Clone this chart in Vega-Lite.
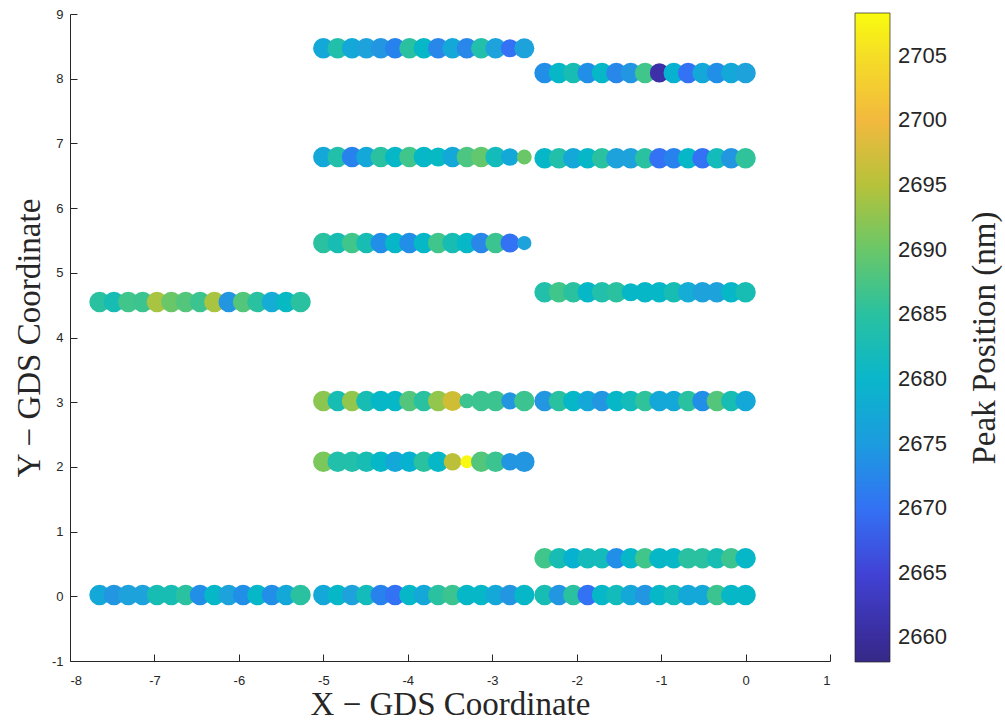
{
"$schema":"https://vega.github.io/schema/vega-lite/v6.json",
"width":760,"height":647,
"autosize":{"type":"none"},
"padding":{"left":70,"top":14,"right":175,"bottom":61},
"background":"white",
"config":{"view":{"stroke":null},
"axis":{"labelFont":"Liberation Sans","labelFontSize":13,"labelColor":"#262626","titleFont":"Liberation Serif","titleFontSize":33,"titleFontWeight":"normal","titleColor":"#262626","domainColor":"#262626","tickColor":"#262626","grid":false,"tickSize":-7}},
"data":{"values":[
{"x":-5.00,"y":8.47,"peak":2677,"amp":1},{"x":-4.83,"y":8.47,"peak":2684,"amp":1},{"x":-4.66,"y":8.47,"peak":2677,"amp":1},{"x":-4.49,"y":8.47,"peak":2676,"amp":1},{"x":-4.32,"y":8.47,"peak":2674,"amp":1},{"x":-4.15,"y":8.47,"peak":2671.5,"amp":1},{"x":-3.98,"y":8.47,"peak":2685,"amp":1},{"x":-3.81,"y":8.47,"peak":2680.5,"amp":1},{"x":-3.64,"y":8.47,"peak":2672,"amp":1},{"x":-3.47,"y":8.47,"peak":2677,"amp":1},{"x":-3.30,"y":8.47,"peak":2672,"amp":1},{"x":-3.13,"y":8.47,"peak":2684,"amp":1},{"x":-2.96,"y":8.47,"peak":2676,"amp":1},{"x":-2.79,"y":8.47,"peak":2670,"amp":0.75},{"x":-2.62,"y":8.47,"peak":2676,"amp":0.95},
{"x":-2.38,"y":8.09,"peak":2673,"amp":1},{"x":-2.21,"y":8.09,"peak":2680.5,"amp":1},{"x":-2.04,"y":8.09,"peak":2683,"amp":1},{"x":-1.87,"y":8.09,"peak":2673,"amp":1},{"x":-1.70,"y":8.09,"peak":2680.5,"amp":1},{"x":-1.53,"y":8.09,"peak":2672,"amp":1},{"x":-1.36,"y":8.09,"peak":2674,"amp":1},{"x":-1.19,"y":8.09,"peak":2687,"amp":1},{"x":-1.02,"y":8.09,"peak":2661,"amp":0.85},{"x":-0.85,"y":8.09,"peak":2679,"amp":1},{"x":-0.68,"y":8.09,"peak":2670,"amp":1},{"x":-0.51,"y":8.09,"peak":2677,"amp":1},{"x":-0.34,"y":8.09,"peak":2673,"amp":1},{"x":-0.17,"y":8.09,"peak":2677,"amp":1},{"x":0.00,"y":8.09,"peak":2676,"amp":1},
{"x":-5.00,"y":6.79,"peak":2677,"amp":1},{"x":-4.83,"y":6.79,"peak":2684,"amp":1},{"x":-4.66,"y":6.79,"peak":2671.5,"amp":1},{"x":-4.49,"y":6.79,"peak":2677,"amp":1},{"x":-4.32,"y":6.79,"peak":2685,"amp":1},{"x":-4.15,"y":6.79,"peak":2680.5,"amp":1},{"x":-3.98,"y":6.79,"peak":2687,"amp":1},{"x":-3.81,"y":6.79,"peak":2680.5,"amp":1},{"x":-3.64,"y":6.79,"peak":2681,"amp":0.85},{"x":-3.47,"y":6.79,"peak":2677,"amp":1},{"x":-3.30,"y":6.79,"peak":2688,"amp":1},{"x":-3.13,"y":6.79,"peak":2689.5,"amp":1},{"x":-2.96,"y":6.79,"peak":2682,"amp":1},{"x":-2.79,"y":6.79,"peak":2677,"amp":0.7},{"x":-2.62,"y":6.79,"peak":2690,"amp":0.45},
{"x":-2.38,"y":6.77,"peak":2680.5,"amp":1},{"x":-2.21,"y":6.77,"peak":2684,"amp":1},{"x":-2.04,"y":6.77,"peak":2677,"amp":1},{"x":-1.87,"y":6.77,"peak":2680.5,"amp":1},{"x":-1.70,"y":6.77,"peak":2685,"amp":1},{"x":-1.53,"y":6.77,"peak":2676,"amp":1},{"x":-1.36,"y":6.77,"peak":2676,"amp":1},{"x":-1.19,"y":6.77,"peak":2685,"amp":1},{"x":-1.02,"y":6.77,"peak":2670,"amp":1},{"x":-0.85,"y":6.77,"peak":2671.5,"amp":1},{"x":-0.68,"y":6.77,"peak":2680.5,"amp":1},{"x":-0.51,"y":6.77,"peak":2670,"amp":1},{"x":-0.34,"y":6.77,"peak":2682,"amp":1},{"x":-0.17,"y":6.77,"peak":2674,"amp":1},{"x":0.00,"y":6.77,"peak":2685.5,"amp":1},
{"x":-5.00,"y":5.46,"peak":2685,"amp":1},{"x":-4.83,"y":5.46,"peak":2683,"amp":1},{"x":-4.66,"y":5.46,"peak":2687,"amp":1},{"x":-4.49,"y":5.46,"peak":2683,"amp":1},{"x":-4.32,"y":5.46,"peak":2673,"amp":1},{"x":-4.15,"y":5.46,"peak":2680.5,"amp":1},{"x":-3.98,"y":5.46,"peak":2673,"amp":1},{"x":-3.81,"y":5.46,"peak":2680.5,"amp":1},{"x":-3.64,"y":5.46,"peak":2687,"amp":1},{"x":-3.47,"y":5.46,"peak":2683,"amp":1},{"x":-3.30,"y":5.46,"peak":2680.5,"amp":1},{"x":-3.13,"y":5.46,"peak":2672,"amp":1},{"x":-2.96,"y":5.46,"peak":2686.5,"amp":1},{"x":-2.79,"y":5.46,"peak":2670,"amp":0.85},{"x":-2.62,"y":5.46,"peak":2676,"amp":0.4},
{"x":-7.65,"y":4.55,"peak":2685,"amp":1},{"x":-7.48,"y":4.55,"peak":2683,"amp":1},{"x":-7.31,"y":4.55,"peak":2687,"amp":1},{"x":-7.14,"y":4.55,"peak":2686.5,"amp":1},{"x":-6.97,"y":4.55,"peak":2694,"amp":1},{"x":-6.80,"y":4.55,"peak":2690,"amp":1},{"x":-6.63,"y":4.55,"peak":2688.5,"amp":1},{"x":-6.46,"y":4.55,"peak":2686.5,"amp":1},{"x":-6.29,"y":4.55,"peak":2694,"amp":1},{"x":-6.12,"y":4.55,"peak":2674,"amp":1},{"x":-5.95,"y":4.55,"peak":2688.5,"amp":1},{"x":-5.78,"y":4.55,"peak":2685,"amp":1},{"x":-5.61,"y":4.55,"peak":2678,"amp":1},{"x":-5.44,"y":4.55,"peak":2681,"amp":1},{"x":-5.27,"y":4.55,"peak":2685,"amp":1},
{"x":-2.38,"y":4.70,"peak":2684,"amp":1},{"x":-2.21,"y":4.70,"peak":2687,"amp":1},{"x":-2.04,"y":4.70,"peak":2685,"amp":1},{"x":-1.87,"y":4.70,"peak":2680.5,"amp":1},{"x":-1.70,"y":4.70,"peak":2684,"amp":1},{"x":-1.53,"y":4.70,"peak":2685,"amp":1},{"x":-1.36,"y":4.70,"peak":2680.5,"amp":0.75},{"x":-1.19,"y":4.70,"peak":2680.5,"amp":1},{"x":-1.02,"y":4.70,"peak":2680.5,"amp":1},{"x":-0.85,"y":4.70,"peak":2683,"amp":1},{"x":-0.68,"y":4.70,"peak":2678,"amp":1},{"x":-0.51,"y":4.70,"peak":2676,"amp":1},{"x":-0.34,"y":4.70,"peak":2676,"amp":1},{"x":-0.17,"y":4.70,"peak":2680.5,"amp":1},{"x":0.00,"y":4.70,"peak":2683,"amp":1},
{"x":-5.00,"y":3.02,"peak":2692,"amp":1},{"x":-4.83,"y":3.02,"peak":2683,"amp":1},{"x":-4.66,"y":3.02,"peak":2692.5,"amp":1},{"x":-4.49,"y":3.02,"peak":2683,"amp":1},{"x":-4.32,"y":3.02,"peak":2680.5,"amp":1},{"x":-4.15,"y":3.02,"peak":2680.5,"amp":1},{"x":-3.98,"y":3.02,"peak":2688.5,"amp":1},{"x":-3.81,"y":3.02,"peak":2685,"amp":1},{"x":-3.64,"y":3.02,"peak":2692.5,"amp":1},{"x":-3.47,"y":3.02,"peak":2697,"amp":0.95},{"x":-3.30,"y":3.02,"peak":2686.5,"amp":0.45},{"x":-3.13,"y":3.02,"peak":2686.5,"amp":1},{"x":-2.96,"y":3.02,"peak":2686.5,"amp":1},{"x":-2.79,"y":3.02,"peak":2674,"amp":0.65},{"x":-2.62,"y":3.02,"peak":2686.5,"amp":1},
{"x":-2.38,"y":3.02,"peak":2674,"amp":1},{"x":-2.21,"y":3.02,"peak":2685,"amp":1},{"x":-2.04,"y":3.02,"peak":2680.5,"amp":1},{"x":-1.87,"y":3.02,"peak":2677,"amp":1},{"x":-1.70,"y":3.02,"peak":2674,"amp":1},{"x":-1.53,"y":3.02,"peak":2680.5,"amp":1},{"x":-1.36,"y":3.02,"peak":2682,"amp":1},{"x":-1.19,"y":3.02,"peak":2685.5,"amp":1},{"x":-1.02,"y":3.02,"peak":2677,"amp":1},{"x":-0.85,"y":3.02,"peak":2677,"amp":1},{"x":-0.68,"y":3.02,"peak":2685,"amp":1},{"x":-0.51,"y":3.02,"peak":2673,"amp":1},{"x":-0.34,"y":3.02,"peak":2688.5,"amp":1},{"x":-0.17,"y":3.02,"peak":2683,"amp":1},{"x":0.00,"y":3.02,"peak":2677,"amp":1},
{"x":-5.00,"y":2.08,"peak":2691,"amp":1},{"x":-4.83,"y":2.08,"peak":2684,"amp":1},{"x":-4.66,"y":2.08,"peak":2684,"amp":1},{"x":-4.49,"y":2.08,"peak":2683,"amp":1},{"x":-4.32,"y":2.08,"peak":2680.5,"amp":1},{"x":-4.15,"y":2.08,"peak":2677,"amp":1},{"x":-3.98,"y":2.08,"peak":2679,"amp":1},{"x":-3.81,"y":2.08,"peak":2685,"amp":1},{"x":-3.64,"y":2.08,"peak":2680.5,"amp":1},{"x":-3.47,"y":2.08,"peak":2695.5,"amp":0.7},{"x":-3.30,"y":2.08,"peak":2708,"amp":0.3},{"x":-3.13,"y":2.08,"peak":2688.5,"amp":1},{"x":-2.96,"y":2.08,"peak":2686.5,"amp":1},{"x":-2.79,"y":2.08,"peak":2674,"amp":0.7},{"x":-2.62,"y":2.08,"peak":2674,"amp":1},
{"x":-2.38,"y":0.59,"peak":2687,"amp":1},{"x":-2.21,"y":0.59,"peak":2683,"amp":1},{"x":-2.04,"y":0.59,"peak":2679,"amp":1},{"x":-1.87,"y":0.59,"peak":2682,"amp":1},{"x":-1.70,"y":0.59,"peak":2682,"amp":1},{"x":-1.53,"y":0.59,"peak":2673,"amp":1},{"x":-1.36,"y":0.59,"peak":2680.5,"amp":1},{"x":-1.19,"y":0.59,"peak":2687,"amp":1},{"x":-1.02,"y":0.59,"peak":2680.5,"amp":1},{"x":-0.85,"y":0.59,"peak":2680.5,"amp":1},{"x":-0.68,"y":0.59,"peak":2685,"amp":1},{"x":-0.51,"y":0.59,"peak":2685,"amp":1},{"x":-0.34,"y":0.59,"peak":2683,"amp":1},{"x":-0.17,"y":0.59,"peak":2686.5,"amp":1},{"x":0.00,"y":0.59,"peak":2680.5,"amp":1},
{"x":-7.65,"y":0.02,"peak":2677,"amp":1},{"x":-7.48,"y":0.02,"peak":2674,"amp":1},{"x":-7.31,"y":0.02,"peak":2676,"amp":1},{"x":-7.14,"y":0.02,"peak":2676,"amp":1},{"x":-6.97,"y":0.02,"peak":2683,"amp":1},{"x":-6.80,"y":0.02,"peak":2683,"amp":1},{"x":-6.63,"y":0.02,"peak":2685,"amp":1},{"x":-6.46,"y":0.02,"peak":2673,"amp":1},{"x":-6.29,"y":0.02,"peak":2680.5,"amp":1},{"x":-6.12,"y":0.02,"peak":2676,"amp":1},{"x":-5.95,"y":0.02,"peak":2673,"amp":1},{"x":-5.78,"y":0.02,"peak":2680.5,"amp":1},{"x":-5.61,"y":0.02,"peak":2673,"amp":1},{"x":-5.44,"y":0.02,"peak":2677,"amp":1},{"x":-5.27,"y":0.02,"peak":2685,"amp":1},
{"x":-5.00,"y":0.02,"peak":2677,"amp":1},{"x":-4.83,"y":0.02,"peak":2680.5,"amp":1},{"x":-4.66,"y":0.02,"peak":2676,"amp":1},{"x":-4.49,"y":0.02,"peak":2682,"amp":1},{"x":-4.32,"y":0.02,"peak":2671.5,"amp":1},{"x":-4.15,"y":0.02,"peak":2670,"amp":1},{"x":-3.98,"y":0.02,"peak":2680.5,"amp":1},{"x":-3.81,"y":0.02,"peak":2677,"amp":1},{"x":-3.64,"y":0.02,"peak":2685,"amp":1},{"x":-3.47,"y":0.02,"peak":2686.5,"amp":1},{"x":-3.30,"y":0.02,"peak":2680.5,"amp":1},{"x":-3.13,"y":0.02,"peak":2680.5,"amp":1},{"x":-2.96,"y":0.02,"peak":2677,"amp":1},{"x":-2.79,"y":0.02,"peak":2674,"amp":1},{"x":-2.62,"y":0.02,"peak":2680.5,"amp":1},
{"x":-2.38,"y":0.02,"peak":2683,"amp":1},{"x":-2.21,"y":0.02,"peak":2674,"amp":1},{"x":-2.04,"y":0.02,"peak":2685,"amp":1},{"x":-1.87,"y":0.02,"peak":2670,"amp":1},{"x":-1.70,"y":0.02,"peak":2680.5,"amp":1},{"x":-1.53,"y":0.02,"peak":2682,"amp":1},{"x":-1.36,"y":0.02,"peak":2677,"amp":1},{"x":-1.19,"y":0.02,"peak":2674,"amp":1},{"x":-1.02,"y":0.02,"peak":2680.5,"amp":1},{"x":-0.85,"y":0.02,"peak":2682,"amp":1},{"x":-0.68,"y":0.02,"peak":2677,"amp":1},{"x":-0.51,"y":0.02,"peak":2677,"amp":1},{"x":-0.34,"y":0.02,"peak":2686.5,"amp":1},{"x":-0.17,"y":0.02,"peak":2680.5,"amp":1},{"x":0.00,"y":0.02,"peak":2680.5,"amp":1}
]},
"mark":{"type":"circle","opacity":1,"strokeWidth":0},
"encoding":{
"x":{"field":"x","type":"quantitative","scale":{"domain":[-8,1],"nice":false,"zero":false},"axis":{"values":[-8,-7,-6,-5,-4,-3,-2,-1,0,1],"labelExpr":"toString(datum.value)","labelPadding":20,"title":"X − GDS Coordinate","titlePadding":1}},
"y":{"field":"y","type":"quantitative","scale":{"domain":[-1,9],"nice":false,"zero":false},"axis":{"values":[-1,0,1,2,3,4,5,6,7,8,9],"labelExpr":"toString(datum.value)","labelPadding":14,"title":"Y − GDS Coordinate","titlePadding":5}},
"color":{"field":"peak","type":"quantitative","scale":{"domain":[2658.1,2661,2665,2668,2670,2672,2674,2676,2678,2680,2682,2684,2686,2688,2690,2692,2694,2696,2698,2700,2702,2704,2706,2708.3],"range":["#352A87","#3D2FA8","#4143D6","#3D5DEB","#3372F4","#2A87EA","#2396E2","#1EA2DC","#15ADD5","#0AB6CA","#13BBBB","#22BFAA","#35C395","#4DC681","#6AC768","#8AC650","#A8C440","#C3BF36","#DCBB38","#F2B93E","#FBC334","#F8D52A","#F2E824","#F9FB0E"]},
"legend":{"orient":"none","legendX":785,"legendY":-1,"direction":"vertical","gradientLength":649,"gradientThickness":35,"values":[2660,2665,2670,2675,2680,2685,2690,2695,2700,2705],"format":"d","labelFontSize":22,"labelFont":"Liberation Sans","labelColor":"#262626","labelOffset":8,"labelOverlap":false,"title":"Peak Position (nm)","titleOrient":"right","titleLimit":1000,"titleFont":"Liberation Serif","titleFontSize":33,"titleFontWeight":"normal","titleColor":"#262626","titleAnchor":"middle","titlePadding":55,"gradientStrokeColor":"#262626","gradientStrokeWidth":0.7,
"encoding":{"title":{"angle":{"value":-90}}}}},
"size":{"field":"amp","type":"quantitative","scale":{"domain":[0,1],"range":[60,420]},"legend":null}
}
}
